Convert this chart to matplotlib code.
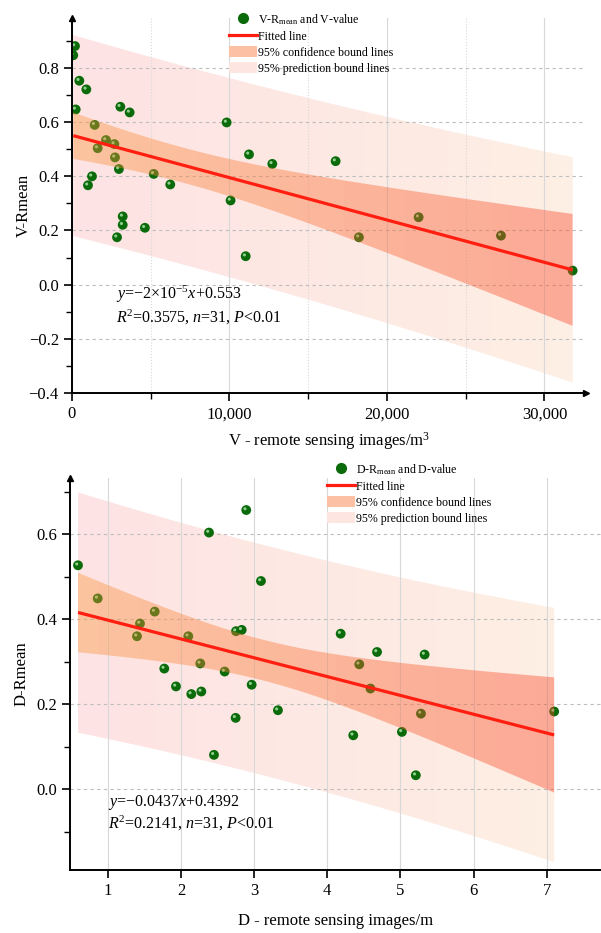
import numpy as np
import matplotlib
matplotlib.use("Agg")
import matplotlib.pyplot as plt
from matplotlib.colors import LinearSegmentedColormap
from matplotlib.lines import Line2D
from matplotlib.patches import Patch
from matplotlib.ticker import MultipleLocator, FuncFormatter
from matplotlib.transforms import offset_copy

plt.rcParams['font.family'] = ['Liberation Serif', 'DejaVu Serif']
plt.rcParams['mathtext.fontset'] = 'custom'
plt.rcParams['mathtext.rm'] = 'Liberation Serif'
plt.rcParams['mathtext.it'] = 'Liberation Serif:italic'

# ---------- DATA ----------
# top panel: volume (m3) vs V-Rmean
v_x = [80, 190, 235, 465, 910, 1016, 1270, 1440, 1630, 2160, 2690, 2730, 2860, 2980, 3070,
       3220, 3220, 3660, 4630, 5190, 6240, 9820, 10070, 11030, 11240, 12720, 16740, 18220,
       22010, 27240, 31790]
v_y = [0.847, 0.881, 0.647, 0.753, 0.721, 0.367, 0.400, 0.590, 0.504, 0.534, 0.519, 0.470,
       0.175, 0.427, 0.657, 0.252, 0.221, 0.636, 0.210, 0.409, 0.370, 0.599, 0.311, 0.105,
       0.481, 0.446, 0.456, 0.175, 0.249, 0.181, 0.052]

# bottom panel: depth (m) vs D-Rmean
d_x = [0.594, 0.863, 1.400, 1.441, 1.642, 1.773, 1.933, 2.101, 2.142, 2.265, 2.279, 2.384,
       2.452, 2.598, 2.748, 2.753, 2.831, 2.893, 2.967, 3.094, 3.326, 4.183, 4.355, 4.437,
       4.59, 4.68, 5.02, 5.21, 5.28, 5.33, 7.10]
d_y = [0.527, 0.449, 0.360, 0.390, 0.418, 0.284, 0.242, 0.360, 0.224, 0.296, 0.230, 0.604,
       0.081, 0.277, 0.168, 0.372, 0.375, 0.657, 0.246, 0.490, 0.186, 0.366, 0.127, 0.294,
       0.237, 0.323, 0.135, 0.033, 0.178, 0.317, 0.183]

T_975 = 2.045  # t value, df = 29

PRED_COLORS = ['#fde3e3', '#fdefe4']
CONF_COLORS = ['#fb943a', '#fa4426']
GREEN = '#0b6b0b'


def fit_bands(x, y):
    x = np.asarray(x, float)
    y = np.asarray(y, float)
    n = len(x)
    xm = x.mean()
    sxx = ((x - xm) ** 2).sum()
    b = ((x - xm) * (y - y.mean())).sum() / sxx
    a = y.mean() - b * xm
    s = np.sqrt(((y - (a + b * x)) ** 2).sum() / (n - 2))
    xs = np.linspace(x.min(), x.max(), 200)
    yh = a + b * xs
    ci = T_975 * s * np.sqrt(1 / n + (xs - xm) ** 2 / sxx)
    pi = T_975 * s * np.sqrt(1 + 1 / n + (xs - xm) ** 2 / sxx)
    return xs, yh, ci, pi


def gradient_band(ax, xs, lo, hi, colors, alpha, zorder):
    poly = ax.fill_between(xs, lo, hi, facecolor='none', edgecolor='none')
    cmap = LinearSegmentedColormap.from_list('band', colors)
    grad = np.linspace(0, 1, 24).reshape(1, -1)
    im = ax.imshow(grad, cmap=cmap, aspect='auto', origin='lower', alpha=alpha,
                   extent=[xs.min(), xs.max(), lo.min(), hi.max()],
                   interpolation='nearest', zorder=zorder)
    im.set_clip_path(poly.get_paths()[0], transform=ax.transData)


def panel(fig, rect, x, y, xlim, ylim):
    ax = fig.add_axes(rect)
    xs, yh, ci, pi = fit_bands(x, y)
    gradient_band(ax, xs, yh - pi, yh + pi, PRED_COLORS, 1.0, 0.5)
    ax.scatter(x, y, s=50, color=GREEN, edgecolor='none', zorder=2)
    hl = offset_copy(ax.transData, fig=fig, x=-1.3, y=1.3, units='dots')
    ax.scatter(x, y, s=5, color='#8fd08f', edgecolor='none', zorder=2.1, transform=hl)
    gradient_band(ax, xs, yh - ci, yh + ci, CONF_COLORS, 0.4, 3)
    ax.plot(xs, yh, color='#ff1e10', lw=2.3, zorder=4, solid_capstyle='butt')
    ax.set_xlim(*xlim)
    ax.set_ylim(*ylim)
    for side in ('top', 'right'):
        ax.spines[side].set_visible(False)
    for side in ('left', 'bottom'):
        ax.spines[side].set_linewidth(1.4)
    ax.set_axisbelow('line')
    ax.grid(axis='y', which='major', color='#bdbdbd', lw=0.8, ls=(0, (3, 3)))
    ax.grid(axis='x', which='major', color='#d8d8d8', lw=0.8, ls='-')
    ax.tick_params(which='major', length=6, width=1.2, labelsize=12, direction='out')
    ax.tick_params(which='minor', length=4, width=1.0, direction='out')
    ax.plot(0, 1, marker='^', color='k', ms=5, transform=ax.transAxes, clip_on=False)
    return ax


fig = plt.figure(figsize=(6.01, 9.33), dpi=100)

# ---------- TOP ----------
ax1 = panel(fig, [0.1198, 0.5788, 0.855, 0.402], v_x, v_y, (0, 32630), (-0.4, 0.985))
ax1.plot(1, 0, marker='>', color='k', ms=5, transform=ax1.transAxes, clip_on=False)
ax1.xaxis.set_major_locator(MultipleLocator(10000))
ax1.xaxis.set_minor_locator(MultipleLocator(5000))
ax1.yaxis.set_major_locator(MultipleLocator(0.2))
ax1.yaxis.set_minor_locator(MultipleLocator(0.1))
ax1.grid(axis='x', which='minor', color='#d8d8d8', lw=0.8, ls=':')
ax1.xaxis.set_major_formatter(FuncFormatter(lambda v, p: f"{v:,.0f}"))
ax1.yaxis.set_major_formatter(FuncFormatter(lambda v, p: f"{v:.1f}".replace('-', '\u2212')))
ax1.set_xlabel("V - remote sensing images/m$^3$", fontsize=12, labelpad=6)
ax1.set_ylabel("V-Rmean", fontsize=12)
ax1.yaxis.set_label_coords(-0.078, 0.5)
ax1.text(2800, -0.036, "$y$=\u22122\u00d710$^{\u22125}$$x$+0.553", fontsize=11.5, va='center')
ax1.text(2800, -0.12, "$R^2$=0.3575, $n$=31, $P$<0.01", fontsize=11.5, va='center')

# ---------- BOTTOM ----------
ax2 = panel(fig, [0.1165, 0.0675, 0.8835, 0.420], d_x, d_y, (0.485, 7.74), (-0.19, 0.732))
ax2.xaxis.set_major_locator(MultipleLocator(1))
ax2.yaxis.set_major_locator(MultipleLocator(0.2))
ax2.yaxis.set_minor_locator(MultipleLocator(0.1))
ax2.yaxis.set_major_formatter(FuncFormatter(lambda v, p: f"{v:.1f}"))
ax2.set_xlabel("D - remote sensing images/m", fontsize=12, labelpad=10)
ax2.set_ylabel("D-Rmean", fontsize=12)
ax2.yaxis.set_label_coords(-0.077, 0.5)
ax2.text(1.0, -0.03, "$y$=\u22120.0437$x$+0.4392", fontsize=11.5, va='center')
ax2.text(1.0, -0.08, "$R^2$=0.2141, $n$=31, $P$<0.01", fontsize=11.5, va='center')


def add_legend(first_label, anchor):
    handles = [
        Line2D([], [], ls='none', marker='o', ms=7, color=GREEN),
        Line2D([], [], color='#ff1e10', lw=2.3),
        Patch(facecolor='#fcc0a4', edgecolor='none'),
        Patch(facecolor='#fde6e2', edgecolor='none'),
    ]
    labels = [first_label, "Fitted line", "95% confidence bound lines",
              "95% prediction bound lines"]
    fig.legend(handles, labels, loc='upper left', bbox_to_anchor=anchor, frameon=False,
               fontsize=8.6, handlelength=2.3, handleheight=1.1, handletextpad=0.1,
               labelspacing=0.25, borderpad=0.2)


add_legend("V-R$_{\\mathrm{mean}}$ and V-value", (221 / 601, 1 - 4 / 933))
add_legend("D-R$_{\\mathrm{mean}}$ and D-value", (319 / 601, 1 - 454 / 933))

fig.savefig("out.png", dpi=100)
